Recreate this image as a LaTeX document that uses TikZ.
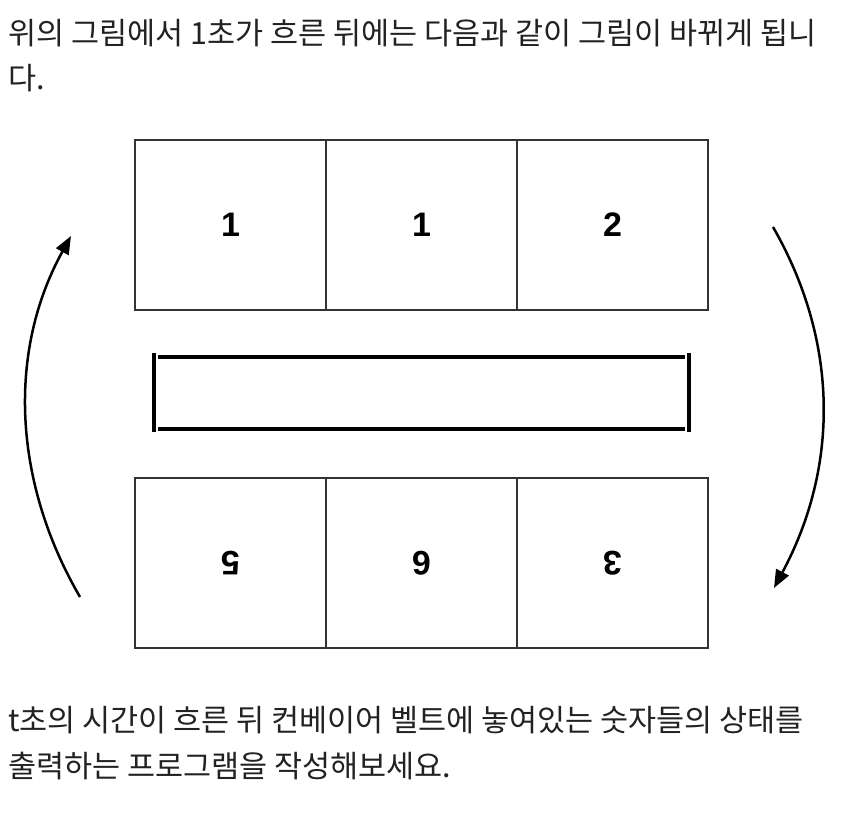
\documentclass[tikz,border=0pt]{standalone}
\usepackage{fontspec}
\usetikzlibrary{positioning, arrows.meta}
\newfontfamily\krfont{Noto Sans CJK KR}
\newfontfamily\numfont{Liberation Sans}
\definecolor{ink}{RGB}{34,34,34}
\definecolor{edge}{RGB}{51,51,51}
\tikzset{
    cell/.style={draw=edge, line width=1.5pt, minimum width=191pt, minimum height=170pt, outer sep=0pt, inner sep=0pt, font=\numfont\bfseries\fontsize{34}{34}\selectfont},
    flipcell/.style={cell, rotate=180},
    belt/.style={line width=3.5pt},
    para/.style={anchor=base west, inner sep=0pt, text=ink, font=\krfont\fontsize{30.5}{45}\selectfont},
    turn/.style={line width=2.5pt, -{Triangle[length=18pt, width=14pt]}}
}

\begin{document}
\begin{tikzpicture}[x=1pt, y=-1pt]
  \useasboundingbox (0,0) rectangle (857,819);
  \node(P1)[para] at (8,44){위의 그림에서 1초가 흐른 뒤에는 다음과 같이 그림이 바뀌게 됩니};
  \node(P2)[para] at (8,89){다.};
  % top row
  \node(T1)[cell] at (230.5,225){1};
  \node(T2)[cell, right=0pt of T1]{1};
  \node(T3)[cell, right=0pt of T2]{2};
  % belt
  \coordinate(BLT) at (154,353);
  \coordinate(BLB) at (154,432);
  \coordinate(BRT) at (689,353);
  \coordinate(BRB) at (689,432);
  \coordinate(UL) at (158,357);
  \coordinate(UR) at (685,357);
  \coordinate(DL) at (158,429);
  \coordinate(DR) at (685,429);
  \draw[belt](BLT)--(BLB);
  \draw[belt](BRT)--(BRB);
  \draw[belt](UL)--(UR);
  \draw[belt](DL)--(DR);
  % bottom row, upside down
  \node(B1)[flipcell] at (230.5,563){5};
  \node(B2)[flipcell] at (421.5,563){6};
  \node(B3)[flipcell] at (612.5,563){3};
  % turning arrows
  \coordinate(LS) at (80,597);
  \coordinate(LE) at (71,236);
  \coordinate(RS) at (773,227);
  \coordinate(RE) at (774,588);
  \draw[turn](LS) .. controls (12,480) and (8,350) .. (LE);
  \draw[turn](RS) .. controls (838,340) and (840,465) .. (RE);
  \node(P3)[para] at (8,731){t초의 시간이 흐른 뒤 컨베이어 벨트에 놓여있는 숫자들의 상태를};
  \node(P4)[para] at (8,777){출력하는 프로그램을 작성해보세요.};
\end{tikzpicture}
\end{document}
